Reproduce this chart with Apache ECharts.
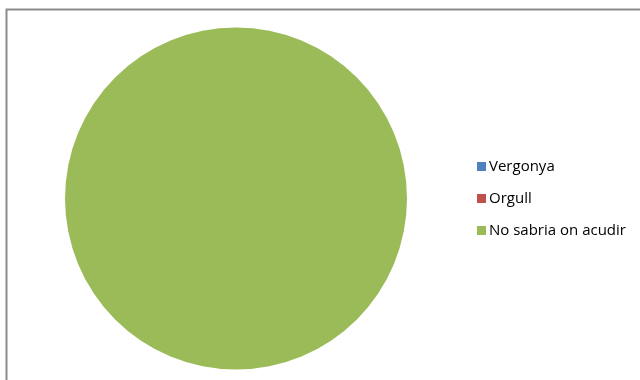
<!DOCTYPE html>
<html>
<head>
<meta charset="utf-8">
<script src="https://cdn.jsdelivr.net/npm/echarts@6/dist/echarts.min.js"></script>
<style>
  html, body { margin: 0; padding: 0; background: #fff; }
  #chart { width: 640px; height: 380px; }
</style>
</head>
<body>
<div id="chart"></div>
<script>
// categories and values
const categories = ['Vergonya', 'Orgull', 'No sabria on acudir']
const values = [0, 0, 100]
const colors = ['#4F81BD', '#C0504D', '#9BBB59']

const chart = echarts.init(document.getElementById('chart'))
chart.setOption({
  animation: false,
  color: colors,
  graphic: [
    {
      type: 'rect',
      shape: { x: 6.5, y: 9.5, width: 700, height: 400 },
      style: { fill: 'none', stroke: '#8c8c8c', lineWidth: 2 }
    }
  ],
  legend: {
    orient: 'vertical',
    left: 472,
    top: 154,
    icon: 'rect',
    itemWidth: 9,
    itemHeight: 9,
    itemGap: 17,
    textStyle: {
      fontFamily: 'Open Sans',
      fontSize: 15,
      color: '#000',
      padding: [0, 0, 0, -2]
    },
    data: categories
  },
  series: [
    {
      type: 'pie',
      center: [236, 198.5],
      radius: 171,
      startAngle: 90,
      label: { show: false },
      labelLine: { show: false },
      itemStyle: { borderWidth: 0 },
      data: categories.map((name, i) => ({ name: name, value: values[i] }))
    }
  ]
})
</script>
</body>
</html>
